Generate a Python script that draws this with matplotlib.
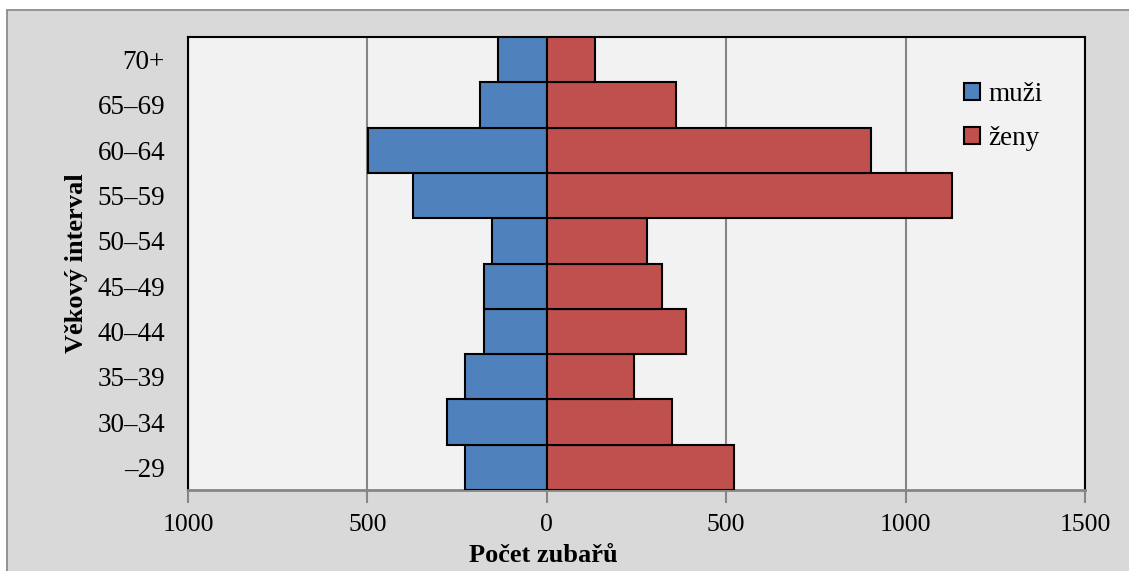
"""Age pyramid of dentists by sex."""

import matplotlib
matplotlib.use("Agg")
import matplotlib.pyplot as plt
from matplotlib.patches import Rectangle, Patch
from matplotlib.ticker import FuncFormatter

age_groups = ["–29", "30–34", "35–39", "40–44", "45–49",
              "50–54", "55–59", "60–64", "65–69", "70+"]
men = [228, 277, 227, 175, 175, 153, 373, 497, 186, 137]
women = [522, 350, 242, 387, 321, 280, 1130, 903, 360, 133]
x_ticks = [-1000, -500, 0, 500, 1000, 1500]

BLUE = "#4F81BD"
RED = "#C0504D"
GRID = "#868686"

plt.rcParams["font.family"] = ["Liberation Serif", "DejaVu Serif"]

fig = plt.figure(figsize=(11.29, 5.71), dpi=100)
fig.patch.set_facecolor("white")

# gray chart panel with a thin border
panel = Rectangle((7 / 1129, -0.1), 1.2, 1 - 10 / 571 + 0.1,
                  transform=fig.transFigure, facecolor="#D9D9D9",
                  edgecolor="#8C8C8C", linewidth=1.3, zorder=-10)
fig.add_artist(panel)

ax = fig.add_axes([188 / 1129, 1 - 490 / 571, 897 / 1129, 453 / 571])
ax.set_zorder(1)
ax.set_facecolor("#F2F2F2")

y = range(len(age_groups))
ax.barh(y, [-m for m in men], height=1.0, color=BLUE,
        edgecolor="black", linewidth=1.5, zorder=3, label="muži")
ax.barh(y, women, height=1.0, color=RED,
        edgecolor="black", linewidth=1.5, zorder=3, label="ženy")

ax.set_xlim(-1000, 1500)
ax.set_ylim(-0.5, len(age_groups) - 0.5)
ax.set_xticks(x_ticks)
ax.xaxis.set_major_formatter(FuncFormatter(lambda v, _: f"{abs(int(v))}"))
ax.set_yticks(list(y))
ax.set_yticklabels(age_groups)

ax.grid(axis="x", color=GRID, linewidth=1.5, zorder=1)
ax.tick_params(axis="x", length=9, width=1.5, color=GRID, labelsize=18.5, pad=8.5)
ax.tick_params(axis="y", length=0, labelsize=19.5, pad=16.5)

for side in ("left", "right", "top"):
    ax.spines[side].set_color("black")
    ax.spines[side].set_linewidth(1.5)
ax.spines["bottom"].set_color(GRID)
ax.spines["bottom"].set_linewidth(2)

ax.set_xlabel("Počet zubařů", fontsize=19, fontweight="bold")
ax.xaxis.set_label_coords((543 - 188) / 897, -(556 - 490) / 453)
ax.xaxis.label.set_va("center")
ax.set_ylabel("Věkový interval", fontsize=19, fontweight="bold")
ax.yaxis.set_label_coords(-(188 - 76) / 897, 0.5)
ax.yaxis.label.set_va("center")

handles = [Patch(facecolor=BLUE, edgecolor="black", linewidth=1.5),
           Patch(facecolor=RED, edgecolor="black", linewidth=1.5)]
ax.legend(handles, ["muži", "ženy"], loc="upper left",
          bbox_to_anchor=(0.838, 0.955), frameon=False, fontsize=19.5,
          handlelength=0.6, handleheight=0.6, handletextpad=0.3,
          labelspacing=0.7)

fig.savefig("out.png", dpi=100)
